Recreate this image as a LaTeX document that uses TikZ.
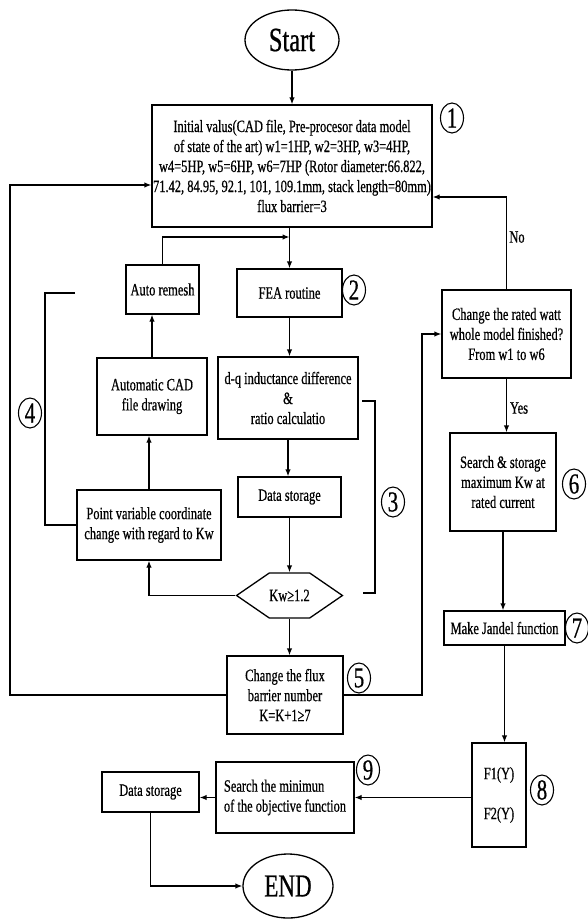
\documentclass[tikz,border=0pt]{standalone}
\usepackage{fontspec}
\setmainfont{Liberation Serif}[FakeStretch=0.72, FakeBold=0.6]
\usetikzlibrary{shapes.geometric,shapes.symbols,arrows.meta}
\begin{document}
\begin{tikzpicture}[x=1pt,y=-1pt,
  box/.style={draw, line width=1.3pt, rectangle, align=center, inner sep=0pt, font=\fontsize{17.3}{20}\selectfont},
  term/.style={draw, line width=1.3pt, ellipse, inner sep=0pt},
  num/.style={draw, ellipse, line width=1.1pt, minimum width=23pt, minimum height=30pt, inner sep=0pt, font=\fontsize{29}{29}\selectfont},
  arr/.style={-{Latex[length=7pt,width=5.5pt]}, line width=1.3pt},
  ln/.style={line width=1.3pt},
  lbl/.style={font=\fontsize{17.3}{20}\selectfont, inner sep=0pt}]
\useasboundingbox (0,0) rectangle (588,920);

% nodes
\node[term, minimum width=94pt, minimum height=60pt, font=\fontsize{34}{34}\selectfont] (start) at (292,40) {Start};
\node[box, minimum width=280pt, minimum height=122pt] (init) at (292,166)
 {Initial valus(CAD file, Pre-procesor data model\\
  of state of the art) w1=1HP, w2=3HP, w3=4HP,\\
  w4=5HP, w5=6HP, w6=7HP (Rotor diameter:66.822,\\
  71.42, 84.95, 92.1, 101, 109.1mm, stack length=80mm)\\
  flux barrier=3};
\node[num] (c1) at (452,118) {1};

\node[box, minimum width=73pt, minimum height=49pt] (remesh) at (162.5,289.5) {Auto remesh};
\node[box, minimum width=105pt, minimum height=48pt] (fea) at (289.5,293) {FEA routine};
\node[num] (c2) at (354,290) {2};

\node[box, minimum width=129pt, minimum height=88pt] (watt) at (506.5,334)
 {Change the rated watt\\whole model finished?\\From w1 to w6};

\node[box, minimum width=110pt, minimum height=77pt] (cad) at (152,396.5) {Automatic CAD\\file drawing};
\node[box, minimum width=140pt, minimum height=82pt] (dq) at (288,398) {d-q inductance difference\\\&\\ratio calculatio};
\node[num] (c4) at (30,413) {4};

\node[box, minimum width=106pt, minimum height=98pt] (search6) at (503,482)
 {Search \& storage\\maximum Kw at\\rated current};
\node[num] (c6) at (574,484) {6};

\node[box, minimum width=103pt, minimum height=40pt] (ds1) at (289.5,497) {Data storage};
\node[box, minimum width=144pt, minimum height=70pt] (point) at (149,525)
 {Point variable coordinate\\change with regard to Kw};
\node[num] (c3) at (393,502) {3};

\node[draw, line width=1.3pt, signal, signal to=east and west, signal pointer angle=69,
  minimum width=105pt, minimum height=45pt, inner sep=0pt, font=\fontsize{17.3}{20}\selectfont] (hex) at (289.5,595.5) {Kw≥1.2};

\node[box, minimum width=121pt, minimum height=34pt] (jandel) at (504.5,628) {Make Jandel function};
\node[num] (c7) at (577,628) {7};

\node[box, minimum width=116pt, minimum height=78pt] (flux) at (285,695)
 {Change the flux\\barrier number\\K=K+1≥7};
\node[num] (c5) at (359,678) {5};

\node[box, minimum width=54pt, minimum height=104pt] (fbox) at (499,795) {F1(Y)\\[20pt]F2(Y)};
\node[num] (c8) at (542,790) {8};

\node[box, minimum width=138pt, minimum height=71pt, align=left] (searchmin) at (285,797.5)
 {Search the minimun\\of the objective function};
\node[num] (c9) at (368,770) {9};

\node[box, minimum width=97pt, minimum height=40pt] (ds2) at (150.5,792) {Data storage};
\node[term, minimum width=90pt, minimum height=64pt, font=\fontsize{32}{32}\selectfont] (end) at (288,886) {END};

\node[lbl] (no) at (517,237) {No};
\node[lbl] (yes) at (519,408) {Yes};

% helper coordinates
\coordinate (lt) at (10,185);
\coordinate (lb) at (10,698);
\coordinate (rr) at (422,700);
\coordinate (tr) at (505,197);
\coordinate (jt) at (290,237);
\coordinate (b3a) at (362,401);
\coordinate (b3b) at (375,401);
\coordinate (b3c) at (375,593);
\coordinate (b3d) at (363,593);
\coordinate (b4a) at (75,293);
\coordinate (b4b) at (45,293);
\coordinate (b4c) at (45,525);

% connectors
\draw[arr] (start.south) -- (start.south |- init.north);
\draw[arr] (fea.north |- init.south) -- (fea.north);
\draw[arr] (remesh.north) |- (fea.north |- jt);
\draw[arr] (cad.north) -- (cad.north |- remesh.south);
\draw[arr] (point.north) -- (point.north |- cad.south);
\draw[arr] (fea.south) -- (fea.south |- dq.north);
\draw[arr] (dq.south) -- (dq.south |- ds1.north);
\draw[arr] (ds1.south) -- (ds1.south |- hex.north);
\draw[arr] (hex.west) -| (point.south);
\draw[arr] (hex.south) -- (hex.south |- flux.north);
\draw[arr] (flux.west) -- (flux.west -| lb) -- (lt) -- (lt -| init.west);
\draw[arr] (flux.east) -- (flux.east -| rr) |- (watt.west);
\draw[arr] (watt.north) |- (init.east |- tr);
\draw[arr] (watt.south) -- (watt.south |- search6.north);
\draw[arr] (search6.south) -- (search6.south |- jandel.north);
\draw[arr] (jandel.south) -- (jandel.south |- fbox.north);
\draw[arr] (searchmin.east -| fbox.west) -- (searchmin.east);
\draw[arr] (searchmin.west) -- (searchmin.west -| ds2.east);
\draw[arr] (ds2.south) |- (end.west);
\draw[ln] (b3a) -- (b3b) -- (b3c) -- (b3d);
\draw[ln] (b4a) -- (b4b) -- (b4c) -- (point.west);
\end{tikzpicture}
\end{document}
